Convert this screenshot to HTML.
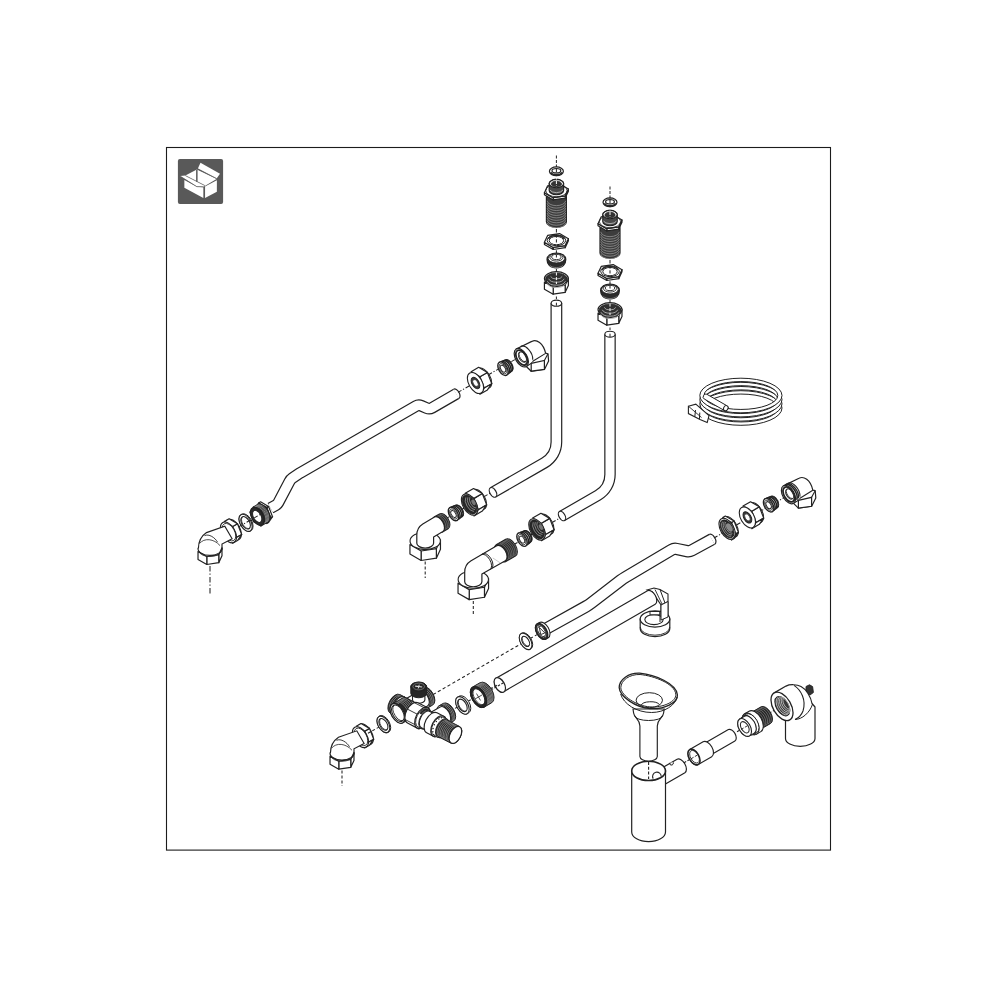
<!DOCTYPE html>
<html><head><meta charset="utf-8"><title>Parts diagram</title>
<style>html,body{margin:0;padding:0;background:#fff}svg{display:block}</style></head>
<body><svg width="1000" height="1000" viewBox="0 0 1000 1000">
<rect width="1000" height="1000" fill="#fff"/>
<rect x="166.5" y="147.5" width="664" height="702.6" fill="none" stroke="#1c1c1c" stroke-width="1.1"/>
<rect x="177.9" y="158.9" width="45.2" height="45.1" rx="2" fill="#595959"/>
<path d="M200.48,162.8 L219.98,173.72 L216.6,178.4 L197.88,168.62Z" fill="#fff" stroke="none" stroke-width="0"/>
<path d="M185.4,175.54 L196.84,169.56 L216.6,178.92 L205.16,185.68Z" fill="#fff" stroke="none" stroke-width="0"/>
<path d="M180.2,176.06 L185.4,175.44 L205.42,185.68 L203.34,186.83 L196.84,186.51Z" fill="#fff" stroke="none" stroke-width="0"/>
<path d="M184.36,179.96 L196.84,186.83 L203.34,187.14 L203.34,198.06 L184.36,187.66Z" fill="#fff" stroke="none" stroke-width="0"/>
<path d="M205.06,186.46 L216.86,180.22 L216.86,191.66 L205.06,198.06Z" fill="#fff" stroke="none" stroke-width="0"/>
<path d="M196.84,169.82 L196.84,181.78" fill="none" stroke="#595959" stroke-width="1.5"/>
<path d="M197.88,168.94 L216.6,178.5" fill="none" stroke="#595959" stroke-width="0.7"/>
<path d="M185.4,175.64 L204.9,185.58" fill="none" stroke="#595959" stroke-width="0.7"/>
<path d="M180.46,176.42 L196.84,186.67" fill="none" stroke="#595959" stroke-width="0.7"/>
<path d="M196.84,186.67 L203.6,186.83" fill="none" stroke="#595959" stroke-width="0.7"/>
<path d="M556.4,303.2 L556.4,441.98 A24 24 0 0 1 544.39,462.78 L493,492.4" fill="none" stroke="#222" stroke-width="11.8" stroke-linejoin="round"/>
<path d="M556.4,303.2 L556.4,441.98 A24 24 0 0 1 544.39,462.78 L493,492.4" fill="none" stroke="#fff" stroke-width="9.4" stroke-linejoin="round"/>
<ellipse cx="556.4" cy="303.2" rx="3.06" ry="5.3" transform="rotate(-90 556.4 303.2)" fill="#fff" stroke="#222" stroke-width="1.2"/>
<ellipse cx="493" cy="492.4" rx="3.06" ry="5.3" transform="rotate(-30 493 492.4)" fill="#fff" stroke="#222" stroke-width="1.2"/>
<path d="M556.4,302.7 L556.4,305.7" fill="none" stroke="#222" stroke-width="1"/>
<path d="M610,334.2 L610,474.44 A24 24 0 0 1 598,495.23 L562,516" fill="none" stroke="#222" stroke-width="11.5" stroke-linejoin="round"/>
<path d="M610,334.2 L610,474.44 A24 24 0 0 1 598,495.23 L562,516" fill="none" stroke="#fff" stroke-width="9.1" stroke-linejoin="round"/>
<ellipse cx="610" cy="334.2" rx="2.97" ry="5.15" transform="rotate(-90 610 334.2)" fill="#fff" stroke="#222" stroke-width="1.2"/>
<ellipse cx="562" cy="516" rx="2.97" ry="5.15" transform="rotate(-30 562 516)" fill="#fff" stroke="#222" stroke-width="1.2"/>
<path d="M610,333.7 L610,336.7" fill="none" stroke="#222" stroke-width="1"/>
<path d="M556.4,155.5 L556.4,188" fill="none" stroke="#222" stroke-width="1" stroke-dasharray="3 1.5"/>
<path d="M556.4,166.96 A4.34 7 -90 0 1 556.4,175.64 L556.4,175.64 A4.34 7 -90 0 1 556.4,166.96Z M556.4,168.5 A2.2 4.4 -90 0 1 556.4,172.9 L556.4,172.9 A2.2 4.4 -90 0 1 556.4,168.5Z" fill="#fff" fill-rule="evenodd" stroke="#222" stroke-width="1.2"/>
<path d="M561.91,172.13 A3.08 5.6 -90 0 1 550.89,172.13" fill="none" stroke="#2b2b2b" stroke-width="1.6"/>
<path d="M546.4,197 L546.4,221.7 A5.77 10 90 0 0 566.4,221.7 L566.4,197 A5.77 10 90 0 0 546.4,197 Z" fill="#3d3d3d" stroke="#222" stroke-width="1.2"/>
<path d="M565.75,200.79 A5.42 9.4 90 0 1 547.05,200.79" fill="none" stroke="#a5a5a5" stroke-width="0.65"/>
<path d="M565.75,203.24 A5.42 9.4 90 0 1 547.05,203.24" fill="none" stroke="#a5a5a5" stroke-width="0.65"/>
<path d="M565.75,205.69 A5.42 9.4 90 0 1 547.05,205.69" fill="none" stroke="#a5a5a5" stroke-width="0.65"/>
<path d="M565.75,208.14 A5.42 9.4 90 0 1 547.05,208.14" fill="none" stroke="#a5a5a5" stroke-width="0.65"/>
<path d="M565.75,210.59 A5.42 9.4 90 0 1 547.05,210.59" fill="none" stroke="#a5a5a5" stroke-width="0.65"/>
<path d="M565.75,213.04 A5.42 9.4 90 0 1 547.05,213.04" fill="none" stroke="#a5a5a5" stroke-width="0.65"/>
<path d="M565.75,215.49 A5.42 9.4 90 0 1 547.05,215.49" fill="none" stroke="#a5a5a5" stroke-width="0.65"/>
<path d="M565.75,217.94 A5.42 9.4 90 0 1 547.05,217.94" fill="none" stroke="#a5a5a5" stroke-width="0.65"/>
<path d="M565.75,220.39 A5.42 9.4 90 0 1 547.05,220.39" fill="none" stroke="#a5a5a5" stroke-width="0.65"/>
<path d="M565.75,222.84 A5.42 9.4 90 0 1 547.05,222.84" fill="none" stroke="#a5a5a5" stroke-width="0.65"/>
<path d="M565.17,195.86 L568.38,188.95 L568.38,191.15 L565.17,198.06Z" fill="#fff" stroke="#222" stroke-width="1.2" stroke-linejoin="round"/>
<path d="M553.19,197.71 L565.17,195.86 L565.17,198.06 L553.19,199.91Z" fill="#fff" stroke="#222" stroke-width="1.2" stroke-linejoin="round"/>
<path d="M544.42,192.65 L553.19,197.71 L553.19,199.91 L544.42,194.85Z" fill="#fff" stroke="#222" stroke-width="1.2" stroke-linejoin="round"/>
<path d="M568.38,188.95 L565.17,195.86 L553.19,197.71 L544.42,192.65 L547.63,185.74 L559.61,183.89Z" fill="#fff" stroke="#222" stroke-width="1.2" stroke-linejoin="round"/>
<ellipse cx="556.4" cy="190.6" rx="6.12" ry="10.6" transform="rotate(-90 556.4 190.6)" fill="none" stroke="#222" stroke-width="0.8"/>
<path d="M549.2,183.6 L549.2,190.6 A4.15 7.2 90 0 0 563.6,190.6 L563.6,183.6 A4.15 7.2 90 0 0 549.2,183.6 Z" fill="#4a4a4a" stroke="#222" stroke-width="1.2"/>
<ellipse cx="556.4" cy="183.6" rx="4.15" ry="7.2" transform="rotate(-90 556.4 183.6)" fill="#fff" stroke="#222" stroke-width="1.2"/>
<ellipse cx="556.4" cy="184" rx="3" ry="5.2" transform="rotate(-90 556.4 184)" fill="#333" stroke="#222" stroke-width="0.6"/>
<path d="M562.98,189.98 A4.04 7 90 0 1 549.82,189.98" fill="none" stroke="#c8c8c8" stroke-width="0.8"/>
<path d="M556.4,176.5 L556.4,186" fill="none" stroke="#fff" stroke-width="1" stroke-dasharray="3 1.5"/>
<path d="M556.4,229 L556.4,232.5" fill="none" stroke="#222" stroke-width="1"/>
<path d="M565.17,245.56 L568.38,238.65 L568.38,240.75 L565.17,247.66Z" fill="#fff" stroke="#222" stroke-width="1.2" stroke-linejoin="round"/>
<path d="M553.19,247.41 L565.17,245.56 L565.17,247.66 L553.19,249.51Z" fill="#fff" stroke="#222" stroke-width="1.2" stroke-linejoin="round"/>
<path d="M544.42,242.35 L553.19,247.41 L553.19,249.51 L544.42,244.45Z" fill="#fff" stroke="#222" stroke-width="1.2" stroke-linejoin="round"/>
<path d="M568.38,238.65 L565.17,245.56 L553.19,247.41 L544.42,242.35 L547.63,235.44 L559.61,233.59Z" fill="#fff" stroke="#222" stroke-width="1.2" stroke-linejoin="round"/>
<ellipse cx="556.4" cy="240.3" rx="5.37" ry="9.3" transform="rotate(-90 556.4 240.3)" fill="#fff" stroke="#222" stroke-width="1"/>
<ellipse cx="556.4" cy="240.6" rx="4.15" ry="7.2" transform="rotate(-90 556.4 240.6)" fill="#fff" stroke="#222" stroke-width="1"/>
<path d="M548.48,238.98 A4.73 8.2 -90 0 1 564.32,238.98" fill="none" stroke="#2b2b2b" stroke-width="1.7"/>
<path d="M556.4,234.5 L556.4,243" fill="none" stroke="#222" stroke-width="1" stroke-dasharray="3.2 1.6"/>
<path d="M556.4,250.3 L556.4,253" fill="none" stroke="#222" stroke-width="1"/>
<path d="M547,259.6 C547,264 549.9,268 556.4,268 C562.9,268 565.8,264 565.8,259.6 C565.8,255.5 561.4,253 556.4,253 C551.4,253 547,255.5 547,259.6Z" fill="#2b2b2b" stroke="#222" stroke-width="1.2"/>
<ellipse cx="556.4" cy="258.3" rx="4.65" ry="8.3" transform="rotate(-90 556.4 258.3)" fill="#fff" stroke="#222" stroke-width="0.9"/>
<ellipse cx="556.4" cy="257.4" rx="3.7" ry="6.6" transform="rotate(-90 556.4 257.4)" fill="#fff" stroke="#222" stroke-width="0.9"/>
<ellipse cx="556.4" cy="257" rx="2.63" ry="4.7" transform="rotate(-90 556.4 257)" fill="#fff" stroke="#222" stroke-width="0.9"/>
<path d="M562.98,265.39 A4.39 7.6 90 0 1 549.82,265.39" fill="none" stroke="#999" stroke-width="0.7"/>
<path d="M556.4,254.5 L556.4,257.5" fill="none" stroke="#222" stroke-width="1"/>
<path d="M556.4,269 L556.4,272" fill="none" stroke="#222" stroke-width="1"/>
<path d="M565.17,285.26 L568.38,278.35 L568.38,285.45 L565.17,292.36Z" fill="#fff" stroke="#222" stroke-width="1.2" stroke-linejoin="round"/>
<path d="M553.19,287.11 L565.17,285.26 L565.17,292.36 L553.19,294.21Z" fill="#fff" stroke="#222" stroke-width="1.2" stroke-linejoin="round"/>
<path d="M544.42,282.05 L553.19,287.11 L553.19,294.21 L544.42,289.15Z" fill="#fff" stroke="#222" stroke-width="1.2" stroke-linejoin="round"/>
<ellipse cx="556.4" cy="278.6" rx="6.92" ry="12" transform="rotate(-90 556.4 278.6)" fill="#fff" stroke="#222" stroke-width="1.15"/>
<path d="M567.7,278.25 L564.67,284.77 L553.37,286.52 L545.1,281.75 L548.13,275.23 L559.43,273.48Z" fill="#303030" stroke="none" stroke-width="0"/>
<ellipse cx="556.4" cy="279.2" rx="6.29" ry="10.9" transform="rotate(-90 556.4 279.2)" fill="#303030" stroke="#222" stroke-width="0.8"/>
<path d="M562.2,276.4 A3.46 6 90 0 1 550.6,276.4" fill="none" stroke="#b0b0b0" stroke-width="0.9"/>
<path d="M564.13,278.79 A4.62 8 90 0 1 548.67,278.79" fill="none" stroke="#b0b0b0" stroke-width="0.9"/>
<path d="M565.48,281.2 A5.42 9.4 90 0 1 547.32,281.2" fill="none" stroke="#b0b0b0" stroke-width="0.9"/>
<path d="M565.67,283.43 A5.54 9.6 90 0 1 547.13,283.43" fill="none" stroke="#b0b0b0" stroke-width="0.9"/>
<path d="M556.4,272.5 L556.4,284" fill="none" stroke="#fff" stroke-width="1" stroke-dasharray="3 1.6"/>
<path d="M556.4,296.5 L556.4,299" fill="none" stroke="#222" stroke-width="1"/>
<path d="M610,186.5 L610,219" fill="none" stroke="#222" stroke-width="1" stroke-dasharray="3 1.5"/>
<path d="M610,197.96 A4.34 7 -90 0 1 610,206.64 L610,206.64 A4.34 7 -90 0 1 610,197.96Z M610,199.5 A2.2 4.4 -90 0 1 610,203.9 L610,203.9 A2.2 4.4 -90 0 1 610,199.5Z" fill="#fff" fill-rule="evenodd" stroke="#222" stroke-width="1.2"/>
<path d="M615.51,203.13 A3.08 5.6 -90 0 1 604.49,203.13" fill="none" stroke="#2b2b2b" stroke-width="1.6"/>
<path d="M600,228 L600,252.7 A5.77 10 90 0 0 620,252.7 L620,228 A5.77 10 90 0 0 600,228 Z" fill="#3d3d3d" stroke="#222" stroke-width="1.2"/>
<path d="M619.35,231.79 A5.42 9.4 90 0 1 600.65,231.79" fill="none" stroke="#a5a5a5" stroke-width="0.65"/>
<path d="M619.35,234.24 A5.42 9.4 90 0 1 600.65,234.24" fill="none" stroke="#a5a5a5" stroke-width="0.65"/>
<path d="M619.35,236.69 A5.42 9.4 90 0 1 600.65,236.69" fill="none" stroke="#a5a5a5" stroke-width="0.65"/>
<path d="M619.35,239.14 A5.42 9.4 90 0 1 600.65,239.14" fill="none" stroke="#a5a5a5" stroke-width="0.65"/>
<path d="M619.35,241.59 A5.42 9.4 90 0 1 600.65,241.59" fill="none" stroke="#a5a5a5" stroke-width="0.65"/>
<path d="M619.35,244.04 A5.42 9.4 90 0 1 600.65,244.04" fill="none" stroke="#a5a5a5" stroke-width="0.65"/>
<path d="M619.35,246.49 A5.42 9.4 90 0 1 600.65,246.49" fill="none" stroke="#a5a5a5" stroke-width="0.65"/>
<path d="M619.35,248.94 A5.42 9.4 90 0 1 600.65,248.94" fill="none" stroke="#a5a5a5" stroke-width="0.65"/>
<path d="M619.35,251.39 A5.42 9.4 90 0 1 600.65,251.39" fill="none" stroke="#a5a5a5" stroke-width="0.65"/>
<path d="M619.35,253.84 A5.42 9.4 90 0 1 600.65,253.84" fill="none" stroke="#a5a5a5" stroke-width="0.65"/>
<path d="M618.77,226.86 L621.98,219.95 L621.98,222.15 L618.77,229.06Z" fill="#fff" stroke="#222" stroke-width="1.2" stroke-linejoin="round"/>
<path d="M606.79,228.71 L618.77,226.86 L618.77,229.06 L606.79,230.91Z" fill="#fff" stroke="#222" stroke-width="1.2" stroke-linejoin="round"/>
<path d="M598.02,223.65 L606.79,228.71 L606.79,230.91 L598.02,225.85Z" fill="#fff" stroke="#222" stroke-width="1.2" stroke-linejoin="round"/>
<path d="M621.98,219.95 L618.77,226.86 L606.79,228.71 L598.02,223.65 L601.23,216.74 L613.21,214.89Z" fill="#fff" stroke="#222" stroke-width="1.2" stroke-linejoin="round"/>
<ellipse cx="610" cy="221.6" rx="6.12" ry="10.6" transform="rotate(-90 610 221.6)" fill="none" stroke="#222" stroke-width="0.8"/>
<path d="M602.8,214.6 L602.8,221.6 A4.15 7.2 90 0 0 617.2,221.6 L617.2,214.6 A4.15 7.2 90 0 0 602.8,214.6 Z" fill="#4a4a4a" stroke="#222" stroke-width="1.2"/>
<ellipse cx="610" cy="214.6" rx="4.15" ry="7.2" transform="rotate(-90 610 214.6)" fill="#fff" stroke="#222" stroke-width="1.2"/>
<ellipse cx="610" cy="215" rx="3" ry="5.2" transform="rotate(-90 610 215)" fill="#333" stroke="#222" stroke-width="0.6"/>
<path d="M616.58,220.98 A4.04 7 90 0 1 603.42,220.98" fill="none" stroke="#c8c8c8" stroke-width="0.8"/>
<path d="M610,207.5 L610,217" fill="none" stroke="#fff" stroke-width="1" stroke-dasharray="3 1.5"/>
<path d="M610,260 L610,263.5" fill="none" stroke="#222" stroke-width="1"/>
<path d="M618.77,276.56 L621.98,269.65 L621.98,271.75 L618.77,278.66Z" fill="#fff" stroke="#222" stroke-width="1.2" stroke-linejoin="round"/>
<path d="M606.79,278.41 L618.77,276.56 L618.77,278.66 L606.79,280.51Z" fill="#fff" stroke="#222" stroke-width="1.2" stroke-linejoin="round"/>
<path d="M598.02,273.35 L606.79,278.41 L606.79,280.51 L598.02,275.45Z" fill="#fff" stroke="#222" stroke-width="1.2" stroke-linejoin="round"/>
<path d="M621.98,269.65 L618.77,276.56 L606.79,278.41 L598.02,273.35 L601.23,266.44 L613.21,264.59Z" fill="#fff" stroke="#222" stroke-width="1.2" stroke-linejoin="round"/>
<ellipse cx="610" cy="271.3" rx="5.37" ry="9.3" transform="rotate(-90 610 271.3)" fill="#fff" stroke="#222" stroke-width="1"/>
<ellipse cx="610" cy="271.6" rx="4.15" ry="7.2" transform="rotate(-90 610 271.6)" fill="#fff" stroke="#222" stroke-width="1"/>
<path d="M602.08,269.98 A4.73 8.2 -90 0 1 617.92,269.98" fill="none" stroke="#2b2b2b" stroke-width="1.7"/>
<path d="M610,265.5 L610,274" fill="none" stroke="#222" stroke-width="1" stroke-dasharray="3.2 1.6"/>
<path d="M610,281.3 L610,284" fill="none" stroke="#222" stroke-width="1"/>
<path d="M600.6,290.6 C600.6,295 603.5,299 610,299 C616.5,299 619.4,295 619.4,290.6 C619.4,286.5 615,284 610,284 C605,284 600.6,286.5 600.6,290.6Z" fill="#2b2b2b" stroke="#222" stroke-width="1.2"/>
<ellipse cx="610" cy="289.3" rx="4.65" ry="8.3" transform="rotate(-90 610 289.3)" fill="#fff" stroke="#222" stroke-width="0.9"/>
<ellipse cx="610" cy="288.4" rx="3.7" ry="6.6" transform="rotate(-90 610 288.4)" fill="#fff" stroke="#222" stroke-width="0.9"/>
<ellipse cx="610" cy="288" rx="2.63" ry="4.7" transform="rotate(-90 610 288)" fill="#fff" stroke="#222" stroke-width="0.9"/>
<path d="M616.58,296.39 A4.39 7.6 90 0 1 603.42,296.39" fill="none" stroke="#999" stroke-width="0.7"/>
<path d="M610,285.5 L610,288.5" fill="none" stroke="#222" stroke-width="1"/>
<path d="M610,300 L610,303" fill="none" stroke="#222" stroke-width="1"/>
<path d="M618.77,316.26 L621.98,309.35 L621.98,316.45 L618.77,323.36Z" fill="#fff" stroke="#222" stroke-width="1.2" stroke-linejoin="round"/>
<path d="M606.79,318.11 L618.77,316.26 L618.77,323.36 L606.79,325.21Z" fill="#fff" stroke="#222" stroke-width="1.2" stroke-linejoin="round"/>
<path d="M598.02,313.05 L606.79,318.11 L606.79,325.21 L598.02,320.15Z" fill="#fff" stroke="#222" stroke-width="1.2" stroke-linejoin="round"/>
<ellipse cx="610" cy="309.6" rx="6.92" ry="12" transform="rotate(-90 610 309.6)" fill="#fff" stroke="#222" stroke-width="1.15"/>
<path d="M621.3,309.25 L618.27,315.77 L606.97,317.52 L598.7,312.75 L601.73,306.23 L613.03,304.48Z" fill="#303030" stroke="none" stroke-width="0"/>
<ellipse cx="610" cy="310.2" rx="6.29" ry="10.9" transform="rotate(-90 610 310.2)" fill="#303030" stroke="#222" stroke-width="0.8"/>
<path d="M615.8,307.4 A3.46 6 90 0 1 604.2,307.4" fill="none" stroke="#b0b0b0" stroke-width="0.9"/>
<path d="M617.73,309.79 A4.62 8 90 0 1 602.27,309.79" fill="none" stroke="#b0b0b0" stroke-width="0.9"/>
<path d="M619.08,312.2 A5.42 9.4 90 0 1 600.92,312.2" fill="none" stroke="#b0b0b0" stroke-width="0.9"/>
<path d="M619.27,314.43 A5.54 9.6 90 0 1 600.73,314.43" fill="none" stroke="#b0b0b0" stroke-width="0.9"/>
<path d="M610,303.5 L610,315" fill="none" stroke="#fff" stroke-width="1" stroke-dasharray="3 1.6"/>
<path d="M610,327.5 L610,330" fill="none" stroke="#222" stroke-width="1"/>
<path d="M270.5,508.2 L275.98,505.07 A6 6 0 0 0 278.31,502.65 L289.46,481.48 A9 9 0 0 1 292.34,478.24 L299.72,473.19 A9 9 0 0 1 300.3,472.83 L415.9,406.1 A6 6 0 0 1 421.26,405.78 L426.74,408.12 A6 6 0 0 0 432.1,407.8 L456.3,393.8" fill="none" stroke="#222" stroke-width="11.8" stroke-linejoin="round"/>
<path d="M270.5,508.2 L275.98,505.07 A6 6 0 0 0 278.31,502.65 L289.46,481.48 A9 9 0 0 1 292.34,478.24 L299.72,473.19 A9 9 0 0 1 300.3,472.83 L415.9,406.1 A6 6 0 0 1 421.26,405.78 L426.74,408.12 A6 6 0 0 0 432.1,407.8 L456.3,393.8" fill="none" stroke="#fff" stroke-width="9.4" stroke-linejoin="round"/>
<path d="M458.95,398.39 A3.06 5.3 -30 0 0 453.65,389.21" fill="#fff" stroke="#222" stroke-width="1.2"/>
<path d="M270.73,517.81 L266.73,507.52 L268.55,506.47 L272.55,516.76Z" fill="#fff" stroke="#222" stroke-width="1.2" stroke-linejoin="round"/>
<path d="M266.74,523.5 L270.73,517.81 L272.55,516.76 L268.56,522.45Z" fill="#fff" stroke="#222" stroke-width="1.2" stroke-linejoin="round"/>
<path d="M266.73,507.52 L258.75,502.9 L260.57,501.85 L268.55,506.47Z" fill="#fff" stroke="#222" stroke-width="1.2" stroke-linejoin="round"/>
<path d="M266.73,507.52 L270.73,517.81 L266.74,523.5 L258.75,518.88 L254.75,508.59 L258.75,502.9Z" fill="#fff" stroke="#222" stroke-width="1.2" stroke-linejoin="round"/>
<path d="M264.55,520.65 L260.87,511.17 L266.42,507.97 L270.09,517.45Z" fill="#2b2b2b" stroke="#222" stroke-width="1.2" stroke-linejoin="round"/>
<path d="M260.88,525.88 L264.55,520.65 L270.09,517.45 L266.42,522.68Z" fill="#2b2b2b" stroke="#222" stroke-width="1.2" stroke-linejoin="round"/>
<path d="M260.87,511.17 L253.52,506.92 L259.06,503.72 L266.42,507.97Z" fill="#2b2b2b" stroke="#222" stroke-width="1.2" stroke-linejoin="round"/>
<path d="M260.87,511.17 L264.55,520.65 L260.88,525.88 L253.53,521.63 L249.85,512.15 L253.52,506.92Z" fill="#2b2b2b" stroke="#222" stroke-width="1.2" stroke-linejoin="round"/>
<path d="M254.62,506.63 A5.65 9.8 -30 0 1 264.37,523.51" fill="none" stroke="#a8a8a8" stroke-width="0.65"/>
<path d="M255.6,506.07 A5.65 9.8 -30 0 1 265.35,522.95" fill="none" stroke="#a8a8a8" stroke-width="0.65"/>
<path d="M256.57,505.51 A5.65 9.8 -30 0 1 266.32,522.39" fill="none" stroke="#a8a8a8" stroke-width="0.65"/>
<path d="M257.55,504.95 A5.65 9.8 -30 0 1 267.29,521.83" fill="none" stroke="#a8a8a8" stroke-width="0.65"/>
<ellipse cx="257.2" cy="516.4" rx="5.6" ry="9.7" transform="rotate(-30 257.2 516.4)" fill="#2b2b2b" stroke="#222" stroke-width="1"/>
<ellipse cx="257.2" cy="516.4" rx="3.81" ry="6.6" transform="rotate(-30 257.2 516.4)" fill="#fff" stroke="#222" stroke-width="1"/>
<path d="M250.3,530.94 L251.17,530.44 A5.42 9.4 -30 0 0 241.77,514.16 L240.9,514.66 A5.42 9.4 -30 0 0 250.3,530.94 Z" fill="#fff" stroke="#222" stroke-width="1"/>
<path d="M250.3,520.09 A5.42 9.4 -30 0 1 240.9,525.51 L240.9,525.51 A5.42 9.4 -30 0 1 250.3,520.09Z M249,520.84 A3.92 6.8 -30 0 1 242.2,524.76 L242.2,524.76 A3.92 6.8 -30 0 1 249,520.84Z" fill="#fff" fill-rule="evenodd" stroke="#222" stroke-width="1.1"/>
<path d="M249.69,528.29 A3.92 6.8 -30 0 1 242.89,516.51" fill="none" stroke="#222" stroke-width="0.8"/>
<path d="M239,526.6 L262,513.4" fill="none" stroke="#222" stroke-width="1.05" stroke-dasharray="4 1.8 1.2 1.8"/>
<ellipse cx="233.3" cy="529.65" rx="6.58" ry="11.4" transform="rotate(-30 233.3 529.65)" fill="#fff" stroke="#222" stroke-width="1.1"/>
<path d="M236.86,537.31 L232.65,526.47 L237.5,523.67 L241.71,534.51Z" fill="#fff" stroke="#222" stroke-width="1.2" stroke-linejoin="round"/>
<path d="M232.65,543.29 L236.86,537.31 L241.71,534.51 L237.5,540.49Z" fill="#fff" stroke="#222" stroke-width="1.2" stroke-linejoin="round"/>
<path d="M232.65,526.47 L224.24,521.61 L229.09,518.81 L237.5,523.67Z" fill="#fff" stroke="#222" stroke-width="1.2" stroke-linejoin="round"/>
<ellipse cx="228.45" cy="532.45" rx="6.58" ry="11.4" transform="rotate(-30 228.45 532.45)" fill="#fff" stroke="#222" stroke-width="1.1"/>
<ellipse cx="228.97" cy="532.15" rx="5.54" ry="9.6" transform="rotate(-30 228.97 532.15)" fill="none" stroke="#222" stroke-width="0.8"/>
<path d="M198.4,548.6 C198.4,541.6 202,535.6 206.5,532.6 L224.8,526.13 L232.1,538.77 L222,544.1 L222,549.6 L210,555.6Z" fill="#fff" stroke="none" stroke-width="0"/>
<path d="M198.4,548.6 C198.4,541.6 202,535.6 206.5,532.6 L224.8,526.13 L232.1,538.77 L222,544.1 L222,549.6" fill="none" stroke="#222" stroke-width="1.15"/>
<path d="M204.5,535.6 C209,533.6 215,537.6 217.5,542.1" fill="none" stroke="#222" stroke-width="0.9"/>
<path d="M199.5,543.6 C204,537.6 214,538.6 220,545.6" fill="none" stroke="#222" stroke-width="0.8"/>
<path d="M218.77,554.66 L221.98,547.75 L221.98,555.75 L218.77,562.66Z" fill="#fff" stroke="#222" stroke-width="1.2" stroke-linejoin="round"/>
<path d="M206.79,556.51 L218.77,554.66 L218.77,562.66 L206.79,564.51Z" fill="#fff" stroke="#222" stroke-width="1.2" stroke-linejoin="round"/>
<path d="M198.02,551.45 L206.79,556.51 L206.79,564.51 L198.02,559.45Z" fill="#fff" stroke="#222" stroke-width="1.2" stroke-linejoin="round"/>
<path d="M221.95,547.8 A6.92 12 90 1 1 198.05,547.8" fill="none" stroke="#222" stroke-width="1.1"/>
<path d="M221.42,551.06 A6.69 11.6 90 0 1 198.58,551.06" fill="none" stroke="#222" stroke-width="0.8"/>
<path d="M210,566 L210,595" fill="none" stroke="#222" stroke-width="1.05" stroke-dasharray="5.5 2 1.2 2.3"/>
<path d="M458,392.4 L520,356.6" fill="none" stroke="#222" stroke-width="1.05" stroke-dasharray="4 1.8 1.2 1.8"/>
<ellipse cx="483.81" cy="378.2" rx="6.44" ry="11.16" transform="rotate(-30 483.81 378.2)" fill="#fff" stroke="#222" stroke-width="1"/>
<path d="M484.27,388.06 L479.88,376.77 L487.41,372.42 L491.8,383.71Z" fill="#fff" stroke="#222" stroke-width="1.2" stroke-linejoin="round"/>
<path d="M479.89,394.3 L484.27,388.06 L491.8,383.71 L487.42,389.95Z" fill="#fff" stroke="#222" stroke-width="1.2" stroke-linejoin="round"/>
<path d="M479.88,376.77 L471.11,371.7 L478.65,367.35 L487.41,372.42Z" fill="#fff" stroke="#222" stroke-width="1.2" stroke-linejoin="round"/>
<ellipse cx="475.5" cy="383" rx="6.65" ry="11.53" transform="rotate(-30 475.5 383)" fill="#fff" stroke="#222" stroke-width="1.1"/>
<ellipse cx="475.5" cy="383" rx="3.58" ry="6.2" transform="rotate(-30 475.5 383)" fill="#3a3a3a" stroke="#222" stroke-width="1"/>
<ellipse cx="475.5" cy="383" rx="2.22" ry="3.84" transform="rotate(-30 475.5 383)" fill="#fff" stroke="#222" stroke-width="0.6"/>
<path d="M506.7,375.11 L511.83,370.99 A3.69 6.4 -30 0 0 505.43,359.91 L499.3,362.29Z" fill="#fff" stroke="#222" stroke-width="1.1"/>
<path d="M501.1,361.59 A4.1 7.11 -30 0 1 508.21,373.9" fill="none" stroke="#222" stroke-width="1.5"/>
<path d="M502.91,360.89 A3.93 6.81 -30 0 1 509.72,372.69" fill="none" stroke="#222" stroke-width="1.5"/>
<path d="M504.71,360.19 A3.76 6.52 -30 0 1 511.23,371.48" fill="none" stroke="#222" stroke-width="1.5"/>
<ellipse cx="503" cy="368.7" rx="4.27" ry="7.4" transform="rotate(-30 503 368.7)" fill="#fff" stroke="#222" stroke-width="1.35"/>
<ellipse cx="503" cy="368.7" rx="3.23" ry="5.6" transform="rotate(-30 503 368.7)" fill="none" stroke="#222" stroke-width="0.8"/>
<ellipse cx="503" cy="368.7" rx="2.19" ry="3.8" transform="rotate(-30 503 368.7)" fill="#fff" stroke="#222" stroke-width="1"/>
<path d="M516.25,348.95 L531.8,341.4 C536.3,338.9 543.3,342.7 545.6,353.2 L548,353.8 L548.6,361 L544.6,369.2 L531.2,371.2 L526.35,366.45Z" fill="#fff" stroke="#222" stroke-width="1.2" stroke-linejoin="round"/>
<path d="M531.2,363.4 L544.4,360.4 L544.4,369.4 L531.2,371.2Z" fill="#fff" stroke="#222" stroke-width="1.2"/>
<path d="M526.35,366.45 L531.2,363.4" fill="none" stroke="#222" stroke-width="1.1"/>
<path d="M544.4,360.4 L548,353.8" fill="none" stroke="#222" stroke-width="1.1"/>
<path d="M532.8,361.3 L545.6,353.4" fill="none" stroke="#222" stroke-width="1.1"/>
<path d="M531.2,363.4 L532.8,361.3" fill="none" stroke="#222" stroke-width="1"/>
<path d="M520.58,346.45 A5.83 10.1 -30 0 1 532.76,359.75" fill="none" stroke="#222" stroke-width="1.1"/>
<ellipse cx="521.3" cy="357.7" rx="5.83" ry="10.1" transform="rotate(-30 521.3 357.7)" fill="#fff" stroke="#222" stroke-width="1.2"/>
<ellipse cx="521.56" cy="357.55" rx="4.73" ry="8.2" transform="rotate(-30 521.56 357.55)" fill="#fff" stroke="#222" stroke-width="1.8"/>
<ellipse cx="522.34" cy="357.1" rx="3.23" ry="5.6" transform="rotate(-30 522.34 357.1)" fill="#fff" stroke="#222" stroke-width="1"/>
<path d="M525.48,361.66 A3.23 5.6 -30 0 1 519.96,352.1" fill="none" stroke="#222" stroke-width="0.9"/>
<path d="M446,518.6 L490,493.2" fill="none" stroke="#222" stroke-width="1.05" stroke-dasharray="4 1.8 1.2 1.8"/>
<path d="M443.01,531.75 L448.12,528.8 A4.96 8.6 -30 0 0 439.52,513.9 L434.41,516.85 A4.96 8.6 -30 0 0 443.01,531.75 Z" fill="#2b2b2b" stroke="#222" stroke-width="1.1"/>
<path d="M436.65,516.3 A4.62 8 -30 0 1 444.61,530.08" fill="none" stroke="#999" stroke-width="0.5"/>
<path d="M438.27,515.37 A4.62 8 -30 0 1 446.22,529.15" fill="none" stroke="#999" stroke-width="0.5"/>
<path d="M439.88,514.44 A4.62 8 -30 0 1 447.84,528.22" fill="none" stroke="#999" stroke-width="0.5"/>
<path d="M436.37,548.65 L440.46,539.84 L440.46,549.34 L436.37,558.15Z" fill="#fff" stroke="#222" stroke-width="1.2" stroke-linejoin="round"/>
<path d="M421.11,551.01 L436.37,548.65 L436.37,558.15 L421.11,560.51Z" fill="#fff" stroke="#222" stroke-width="1.2" stroke-linejoin="round"/>
<path d="M409.94,544.56 L421.11,551.01 L421.11,560.51 L409.94,554.06Z" fill="#fff" stroke="#222" stroke-width="1.2" stroke-linejoin="round"/>
<ellipse cx="425.2" cy="540.9" rx="8.75" ry="15.17" transform="rotate(-90 425.2 540.9)" fill="#fff" stroke="#222" stroke-width="1.1"/>
<path d="M416.8,543.2 L416.8,535.1 Q416.8,527.6 422.8,523.9 L434.51,517.03 A4.85 8.4 -30 0 1 442.91,531.57 L433.6,537 L433.6,543.2 A8.4 4.85 0 0 1 416.8,543.2Z" fill="#fff" stroke="#222" stroke-width="1.2" stroke-linejoin="round"/>
<path d="M425.2,561.5 L425.2,578" fill="none" stroke="#222" stroke-width="1.05" stroke-dasharray="3 2"/>
<path d="M457.2,520.41 L462.33,516.29 A3.69 6.4 -30 0 0 455.93,505.21 L449.8,507.59Z" fill="#fff" stroke="#222" stroke-width="1.1"/>
<path d="M451.6,506.89 A4.1 7.11 -30 0 1 458.71,519.2" fill="none" stroke="#222" stroke-width="1.5"/>
<path d="M453.41,506.19 A3.93 6.81 -30 0 1 460.22,517.99" fill="none" stroke="#222" stroke-width="1.5"/>
<path d="M455.21,505.49 A3.76 6.52 -30 0 1 461.73,516.78" fill="none" stroke="#222" stroke-width="1.5"/>
<ellipse cx="453.5" cy="514" rx="4.27" ry="7.4" transform="rotate(-30 453.5 514)" fill="#fff" stroke="#222" stroke-width="1.35"/>
<ellipse cx="453.5" cy="514" rx="3.23" ry="5.6" transform="rotate(-30 453.5 514)" fill="none" stroke="#222" stroke-width="0.8"/>
<ellipse cx="453.5" cy="514" rx="2.19" ry="3.8" transform="rotate(-30 453.5 514)" fill="#fff" stroke="#222" stroke-width="1"/>
<ellipse cx="478.69" cy="499.35" rx="6.44" ry="11.16" transform="rotate(-30 478.69 499.35)" fill="#fff" stroke="#222" stroke-width="1"/>
<path d="M478.37,509.66 L473.98,498.37 L482.29,493.57 L486.68,504.86Z" fill="#fff" stroke="#222" stroke-width="1.2" stroke-linejoin="round"/>
<path d="M473.99,515.9 L478.37,509.66 L486.68,504.86 L482.3,511.1Z" fill="#fff" stroke="#222" stroke-width="1.2" stroke-linejoin="round"/>
<path d="M473.98,498.37 L465.21,493.3 L473.53,488.5 L482.29,493.57Z" fill="#fff" stroke="#222" stroke-width="1.2" stroke-linejoin="round"/>
<ellipse cx="469.6" cy="504.6" rx="6.73" ry="11.66" transform="rotate(-30 469.6 504.6)" fill="#fff" stroke="#222" stroke-width="1.1"/>
<ellipse cx="469.6" cy="504.6" rx="6.01" ry="10.42" transform="rotate(-30 469.6 504.6)" fill="#262626" stroke="#222" stroke-width="0.8"/>
<path d="M473.9,511.45 A4.96 8.6 -30 0 1 465.82,497.45" fill="none" stroke="#9a9a9a" stroke-width="0.8"/>
<path d="M474.99,509.73 A4.39 7.6 -30 0 1 467.85,497.37" fill="none" stroke="#9a9a9a" stroke-width="0.8"/>
<path d="M476.08,508.02 A3.81 6.6 -30 0 1 469.87,497.28" fill="none" stroke="#9a9a9a" stroke-width="0.8"/>
<ellipse cx="473.5" cy="502.35" rx="1.73" ry="3" transform="rotate(-30 473.5 502.35)" fill="#777" stroke="none" stroke-width="0"/>
<path d="M514,544.5 L560,518" fill="none" stroke="#222" stroke-width="1.05" stroke-dasharray="4 1.8 1.2 1.8"/>
<path d="M505.86,561.6 L515.39,556.1 A5.6 9.7 -30 0 0 505.69,539.3 L496.16,544.8 A5.6 9.7 -30 0 0 505.86,561.6 Z" fill="#2b2b2b" stroke="#222" stroke-width="1.1"/>
<path d="M498.43,544.24 A5.25 9.1 -30 0 1 507.48,559.92" fill="none" stroke="#999" stroke-width="0.5"/>
<path d="M499.97,543.35 A5.25 9.1 -30 0 1 509.02,559.03" fill="none" stroke="#999" stroke-width="0.5"/>
<path d="M501.52,542.46 A5.25 9.1 -30 0 1 510.57,558.13" fill="none" stroke="#999" stroke-width="0.5"/>
<path d="M503.06,541.57 A5.25 9.1 -30 0 1 512.11,557.24" fill="none" stroke="#999" stroke-width="0.5"/>
<path d="M504.61,540.68 A5.25 9.1 -30 0 1 513.66,556.35" fill="none" stroke="#999" stroke-width="0.5"/>
<path d="M506.15,539.78 A5.25 9.1 -30 0 1 515.2,555.46" fill="none" stroke="#999" stroke-width="0.5"/>
<path d="M484.47,587.25 L488.56,578.44 L488.56,588.44 L484.47,597.25Z" fill="#fff" stroke="#222" stroke-width="1.2" stroke-linejoin="round"/>
<path d="M469.21,589.61 L484.47,587.25 L484.47,597.25 L469.21,599.61Z" fill="#fff" stroke="#222" stroke-width="1.2" stroke-linejoin="round"/>
<path d="M458.04,583.16 L469.21,589.61 L469.21,599.61 L458.04,593.16Z" fill="#fff" stroke="#222" stroke-width="1.2" stroke-linejoin="round"/>
<ellipse cx="473.3" cy="579.5" rx="8.75" ry="15.17" transform="rotate(-90 473.3 579.5)" fill="#fff" stroke="#222" stroke-width="1.1"/>
<path d="M464.7,581.8 L464.7,572.2 Q464.7,564.7 470.7,561 L496.71,545.75 A4.96 8.6 -30 0 1 505.31,560.65 L481.9,574.1 L481.9,581.8 A8.6 4.96 0 0 1 464.7,581.8Z" fill="#fff" stroke="#222" stroke-width="1.2" stroke-linejoin="round"/>
<path d="M481.02,554.58 A5.08 8.8 -30 0 1 489.82,569.82" fill="none" stroke="#222" stroke-width="1"/>
<path d="M482.41,553.78 A5.08 8.8 -30 0 1 491.21,569.02" fill="none" stroke="#222" stroke-width="1"/>
<path d="M492.79,557.95 L500.25,562.88" fill="none" stroke="#999" stroke-width="0.5"/>
<path d="M473.3,601 L473.3,616" fill="none" stroke="#222" stroke-width="1.05" stroke-dasharray="3 2"/>
<path d="M525.7,546.01 L530.83,541.89 A3.69 6.4 -30 0 0 524.43,530.81 L518.3,533.19Z" fill="#fff" stroke="#222" stroke-width="1.1"/>
<path d="M520.1,532.49 A4.1 7.11 -30 0 1 527.21,544.8" fill="none" stroke="#222" stroke-width="1.5"/>
<path d="M521.91,531.79 A3.93 6.81 -30 0 1 528.72,543.59" fill="none" stroke="#222" stroke-width="1.5"/>
<path d="M523.71,531.09 A3.76 6.52 -30 0 1 530.23,542.38" fill="none" stroke="#222" stroke-width="1.5"/>
<ellipse cx="522" cy="539.6" rx="4.27" ry="7.4" transform="rotate(-30 522 539.6)" fill="#fff" stroke="#222" stroke-width="1.35"/>
<ellipse cx="522" cy="539.6" rx="3.23" ry="5.6" transform="rotate(-30 522 539.6)" fill="none" stroke="#222" stroke-width="0.8"/>
<ellipse cx="522" cy="539.6" rx="2.19" ry="3.8" transform="rotate(-30 522 539.6)" fill="#fff" stroke="#222" stroke-width="1"/>
<ellipse cx="546.09" cy="524.15" rx="6.44" ry="11.16" transform="rotate(-30 546.09 524.15)" fill="#fff" stroke="#222" stroke-width="1"/>
<path d="M545.77,534.46 L541.38,523.17 L549.69,518.37 L554.08,529.66Z" fill="#fff" stroke="#222" stroke-width="1.2" stroke-linejoin="round"/>
<path d="M541.39,540.7 L545.77,534.46 L554.08,529.66 L549.7,535.9Z" fill="#fff" stroke="#222" stroke-width="1.2" stroke-linejoin="round"/>
<path d="M541.38,523.17 L532.61,518.1 L540.93,513.3 L549.69,518.37Z" fill="#fff" stroke="#222" stroke-width="1.2" stroke-linejoin="round"/>
<ellipse cx="537" cy="529.4" rx="6.73" ry="11.66" transform="rotate(-30 537 529.4)" fill="#fff" stroke="#222" stroke-width="1.1"/>
<ellipse cx="537" cy="529.4" rx="6.01" ry="10.42" transform="rotate(-30 537 529.4)" fill="#262626" stroke="#222" stroke-width="0.8"/>
<path d="M541.3,536.25 A4.96 8.6 -30 0 1 533.22,522.25" fill="none" stroke="#9a9a9a" stroke-width="0.8"/>
<path d="M542.39,534.53 A4.39 7.6 -30 0 1 535.25,522.17" fill="none" stroke="#9a9a9a" stroke-width="0.8"/>
<path d="M543.48,532.82 A3.81 6.6 -30 0 1 537.27,522.08" fill="none" stroke="#9a9a9a" stroke-width="0.8"/>
<ellipse cx="540.9" cy="527.15" rx="1.73" ry="3" transform="rotate(-30 540.9 527.15)" fill="#777" stroke="none" stroke-width="0"/>
<path d="M647,590 L654,588 L660,589.5 L668,594 L668,617 L661,620 L661,605 L653,593Z" fill="#fff" stroke="#222" stroke-width="1.1"/>
<path d="M660,589.5 L665,603" fill="none" stroke="#222" stroke-width="1"/>
<path d="M665,603 L668,601.5" fill="none" stroke="#222" stroke-width="1"/>
<path d="M661,605 L665,603" fill="none" stroke="#222" stroke-width="1"/>
<path d="M655,589.5 L662,604" fill="none" stroke="#222" stroke-width="0.9"/>
<path d="M652,591 L656,600" fill="none" stroke="#222" stroke-width="0.9"/>
<path d="M640.2,619 L640.2,628.5 A14.8 8.2 0 0 0 669.8,628.5 L669.8,619Z" fill="#fff" stroke="#222" stroke-width="1.2"/>
<path d="M640.2,627 A14.8 8.2 0 0 0 669.8,627" fill="none" stroke="#222" stroke-width="0.9"/>
<ellipse cx="655" cy="619" rx="14.8" ry="8.2" fill="#fff" stroke="#222" stroke-width="1.2"/>
<ellipse cx="654" cy="619.6" rx="9.2" ry="5" fill="#fff" stroke="#222" stroke-width="1.1"/>
<path d="M650,611.5 L660,611.5 L660,614.8 L650,614.8Z" fill="#fff" stroke="#222" stroke-width="1"/>
<path d="M660,611.5 L660,622" fill="none" stroke="#222" stroke-width="1"/>
<path d="M661,605 L661,620 L668,617 L668,601.5 L665,603Z" fill="#fff" stroke="#222" stroke-width="1"/>
<path d="M503.65,691.67 L655.2,604.17 A4.44 7.7 -30 0 0 647.5,590.83 L495.95,678.33 A4.44 7.7 -30 0 0 503.65,691.67 Z" fill="#fff" stroke="#222" stroke-width="1.2"/>
<ellipse cx="499.8" cy="685" rx="4.67" ry="8.1" transform="rotate(-30 499.8 685)" fill="#fff" stroke="#222" stroke-width="1.2"/>
<path d="M503.5,682.8 L492,689.4" fill="none" stroke="#222" stroke-width="1.05" stroke-dasharray="2.5 1.5"/>
<path d="M546.3,628.6 L585.91,606.51 A45 45 0 0 0 591.42,602.88 L620.84,580.26 A45 45 0 0 1 625.34,577.21 L671.67,549.78 A7 7 0 0 1 676.65,548.95 L686.98,551.08 A7 7 0 0 0 691.76,550.37 L712,539.3" fill="none" stroke="#222" stroke-width="12.4" stroke-linejoin="round"/>
<path d="M546.3,628.6 L585.91,606.51 A45 45 0 0 0 591.42,602.88 L620.84,580.26 A45 45 0 0 1 625.34,577.21 L671.67,549.78 A7 7 0 0 1 676.65,548.95 L686.98,551.08 A7 7 0 0 0 691.76,550.37 L712,539.3" fill="none" stroke="#fff" stroke-width="10" stroke-linejoin="round"/>
<path d="M714.8,544.15 A3.23 5.6 -30 0 0 709.2,534.45" fill="#fff" stroke="#222" stroke-width="1.2"/>
<path d="M546,639.02 L548.25,637.72 A5.08 8.8 -30 0 0 539.45,622.48 L537.2,623.78 A5.08 8.8 -30 0 0 546,639.02 Z" fill="#fff" stroke="#222" stroke-width="1.1"/>
<ellipse cx="541.6" cy="631.4" rx="5.08" ry="8.8" transform="rotate(-30 541.6 631.4)" fill="#333" stroke="#222" stroke-width="1.3"/>
<ellipse cx="541.6" cy="631.4" rx="4.04" ry="7" transform="rotate(-30 541.6 631.4)" fill="#fff" stroke="#222" stroke-width="0.8"/>
<ellipse cx="541.6" cy="631.4" rx="3.23" ry="5.6" transform="rotate(-30 541.6 631.4)" fill="#fff" stroke="#222" stroke-width="0.9"/>
<path d="M539.3,627.42 L544.84,632.94 L540.76,634.54Z" fill="none" stroke="#222" stroke-width="0.9"/>
<path d="M433,694.6 L537,634.6" fill="none" stroke="#222" stroke-width="1.05" stroke-dasharray="3.2 2.4"/>
<path d="M530.1,649.19 L530.97,648.69 A5.19 9 -30 0 0 521.97,633.11 L521.1,633.61 A5.19 9 -30 0 0 530.1,649.19 Z" fill="#fff" stroke="#222" stroke-width="1"/>
<path d="M530.1,638.8 A5.19 9 -30 0 1 521.1,644 L521.1,644 A5.19 9 -30 0 1 530.1,638.8Z M528.4,639.78 A3.23 5.6 -30 0 1 522.8,643.02 L522.8,643.02 A3.23 5.6 -30 0 1 528.4,639.78Z" fill="#fff" fill-rule="evenodd" stroke="#222" stroke-width="1.1"/>
<path d="M529.09,645.85 A3.23 5.6 -30 0 1 523.49,636.15" fill="none" stroke="#222" stroke-width="0.8"/>
<path d="M714,538 L786,496.5" fill="none" stroke="#222" stroke-width="1.05" stroke-dasharray="4 1.8 1.2 1.8"/>
<ellipse cx="730.22" cy="527" rx="6.58" ry="11.41" transform="rotate(-30 730.22 527)" fill="#fff" stroke="#222" stroke-width="1"/>
<path d="M735.87,533.86 L731.48,522.57 L734.08,521.07 L738.46,532.36Z" fill="#fff" stroke="#222" stroke-width="1.2" stroke-linejoin="round"/>
<path d="M731.49,540.1 L735.87,533.86 L738.46,532.36 L734.08,538.6Z" fill="#fff" stroke="#222" stroke-width="1.2" stroke-linejoin="round"/>
<path d="M731.48,522.57 L722.71,517.5 L725.31,516 L734.08,521.07Z" fill="#fff" stroke="#222" stroke-width="1.2" stroke-linejoin="round"/>
<ellipse cx="727.1" cy="528.8" rx="6.65" ry="11.53" transform="rotate(-30 727.1 528.8)" fill="#fff" stroke="#222" stroke-width="1.1"/>
<ellipse cx="727.1" cy="528.8" rx="5.65" ry="9.8" transform="rotate(-30 727.1 528.8)" fill="#262626" stroke="#222" stroke-width="0.9"/>
<path d="M731.28,536.17 A4.96 8.6 -30 0 1 722.81,521.5" fill="none" stroke="#a5a5a5" stroke-width="0.8"/>
<path d="M731.83,534.71 A4.39 7.6 -30 0 1 724.34,521.75" fill="none" stroke="#a5a5a5" stroke-width="0.8"/>
<path d="M732.38,533.26 A3.81 6.6 -30 0 1 725.88,522" fill="none" stroke="#a5a5a5" stroke-width="0.8"/>
<ellipse cx="729.35" cy="527.5" rx="2.65" ry="4.6" transform="rotate(-30 729.35 527.5)" fill="#8a8a8a" stroke="none" stroke-width="0"/>
<ellipse cx="755.71" cy="512.6" rx="6.44" ry="11.16" transform="rotate(-30 755.71 512.6)" fill="#fff" stroke="#222" stroke-width="1"/>
<path d="M756.17,522.46 L751.78,511.17 L759.31,506.82 L763.7,518.11Z" fill="#fff" stroke="#222" stroke-width="1.2" stroke-linejoin="round"/>
<path d="M751.79,528.7 L756.17,522.46 L763.7,518.11 L759.32,524.35Z" fill="#fff" stroke="#222" stroke-width="1.2" stroke-linejoin="round"/>
<path d="M751.78,511.17 L743.01,506.1 L750.55,501.75 L759.31,506.82Z" fill="#fff" stroke="#222" stroke-width="1.2" stroke-linejoin="round"/>
<ellipse cx="747.4" cy="517.4" rx="6.65" ry="11.53" transform="rotate(-30 747.4 517.4)" fill="#fff" stroke="#222" stroke-width="1.1"/>
<ellipse cx="747.4" cy="517.4" rx="3.58" ry="6.2" transform="rotate(-30 747.4 517.4)" fill="#3a3a3a" stroke="#222" stroke-width="1"/>
<ellipse cx="747.4" cy="517.4" rx="2.22" ry="3.84" transform="rotate(-30 747.4 517.4)" fill="#fff" stroke="#222" stroke-width="0.6"/>
<path d="M772.3,511.61 L777.43,507.49 A3.69 6.4 -30 0 0 771.03,496.41 L764.9,498.79Z" fill="#fff" stroke="#222" stroke-width="1.1"/>
<path d="M766.7,498.09 A4.1 7.11 -30 0 1 773.81,510.4" fill="none" stroke="#222" stroke-width="1.5"/>
<path d="M768.51,497.39 A3.93 6.81 -30 0 1 775.32,509.19" fill="none" stroke="#222" stroke-width="1.5"/>
<path d="M770.31,496.69 A3.76 6.52 -30 0 1 776.83,507.98" fill="none" stroke="#222" stroke-width="1.5"/>
<ellipse cx="768.6" cy="505.2" rx="4.27" ry="7.4" transform="rotate(-30 768.6 505.2)" fill="#fff" stroke="#222" stroke-width="1.35"/>
<ellipse cx="768.6" cy="505.2" rx="3.23" ry="5.6" transform="rotate(-30 768.6 505.2)" fill="none" stroke="#222" stroke-width="0.8"/>
<ellipse cx="768.6" cy="505.2" rx="2.19" ry="3.8" transform="rotate(-30 768.6 505.2)" fill="#fff" stroke="#222" stroke-width="1"/>
<path d="M783.45,485.85 L799,478.3 C803.5,475.8 810.5,479.6 812.8,490.1 L815.2,490.7 L815.8,497.9 L811.8,506.1 L798.4,508.1 L793.55,503.35Z" fill="#fff" stroke="#222" stroke-width="1.2" stroke-linejoin="round"/>
<path d="M798.4,500.3 L811.6,497.3 L811.6,506.3 L798.4,508.1Z" fill="#fff" stroke="#222" stroke-width="1.2"/>
<path d="M793.55,503.35 L798.4,500.3" fill="none" stroke="#222" stroke-width="1.1"/>
<path d="M811.6,497.3 L815.2,490.7" fill="none" stroke="#222" stroke-width="1.1"/>
<path d="M800,498.2 L812.8,490.3" fill="none" stroke="#222" stroke-width="1.1"/>
<path d="M798.4,500.3 L800,498.2" fill="none" stroke="#222" stroke-width="1"/>
<path d="M787.78,483.35 A5.83 10.1 -30 0 1 799.96,496.65" fill="none" stroke="#222" stroke-width="1.1"/>
<path d="M785.1,484.91 A5.83 10.1 -30 0 1 796.87,499.87" fill="none" stroke="#222" stroke-width="1.6"/>
<path d="M786.49,484.11 A5.83 10.1 -30 0 1 798.39,498.44" fill="none" stroke="#222" stroke-width="1.4"/>
<ellipse cx="788.5" cy="494.6" rx="5.83" ry="10.1" transform="rotate(-30 788.5 494.6)" fill="#fff" stroke="#222" stroke-width="1.2"/>
<ellipse cx="788.76" cy="494.45" rx="4.73" ry="8.2" transform="rotate(-30 788.76 494.45)" fill="#fff" stroke="#222" stroke-width="1.8"/>
<ellipse cx="789.54" cy="494" rx="3.23" ry="5.6" transform="rotate(-30 789.54 494)" fill="#fff" stroke="#222" stroke-width="1"/>
<path d="M792.68,498.56 A3.23 5.6 -30 0 1 787.16,489" fill="none" stroke="#222" stroke-width="0.9"/>
<path d="M395.19,715.76 A6.06 10.5 207.2 0 1 404.79,697.08 L399.9,694.57 L399.9,694.57 A6.06 10.5 207.2 0 0 390.3,713.25Z" fill="#262626" stroke="#222" stroke-width="1"/>
<path d="M393.59,714.21 A5.77 10 207.2 0 1 402.59,696.69" fill="none" stroke="#b0b0b0" stroke-width="0.6"/>
<path d="M392.15,713.47 A5.77 10 207.2 0 1 401.15,695.95" fill="none" stroke="#b0b0b0" stroke-width="0.6"/>
<path d="M390.71,712.73 A5.77 10 207.2 0 1 399.72,695.21" fill="none" stroke="#b0b0b0" stroke-width="0.6"/>
<ellipse cx="399.99" cy="706.42" rx="6.06" ry="10.5" transform="rotate(207.2 399.99 706.42)" fill="#fff" stroke="#222" stroke-width="1"/>
<path d="M417.69,689.93 A5.94 10.3 -30 0 1 427.99,707.77 L432.75,705.02 L432.75,705.02 A5.94 10.3 -30 0 0 422.45,687.18Z" fill="#262626" stroke="#222" stroke-width="1"/>
<path d="M419.84,689.43 A5.65 9.8 -30 0 1 429.49,706.15" fill="none" stroke="#b0b0b0" stroke-width="0.6"/>
<path d="M421.24,688.63 A5.65 9.8 -30 0 1 430.89,705.34" fill="none" stroke="#b0b0b0" stroke-width="0.6"/>
<path d="M422.64,687.82 A5.65 9.8 -30 0 1 432.3,704.53" fill="none" stroke="#b0b0b0" stroke-width="0.6"/>
<ellipse cx="422.84" cy="698.85" rx="5.94" ry="10.3" transform="rotate(-30 422.84 698.85)" fill="#fff" stroke="#222" stroke-width="1"/>
<path d="M412.85,714.55 L427.57,706.05 A4.96 8.6 -30 0 0 418.97,691.15 L404.25,699.65 A4.96 8.6 -30 0 0 412.85,714.55 Z" fill="#fff" stroke="#222" stroke-width="1.1"/>
<path d="M416.53,703.34 L404.07,696.94 A5.94 10.3 207.2 0 0 394.66,715.26 L407.11,721.66 A5.94 10.3 207.2 0 0 416.53,703.34 Z" fill="#fff" stroke="#222" stroke-width="1.15"/>
<path d="M412.5,691.7 L412.5,699.7 A6.2 3.6 0 0 0 424.9,699.7 L424.9,691.7Z" fill="#fff" stroke="#222" stroke-width="1.1"/>
<path d="M410.8,686.7 L410.8,693.2 A4.56 7.9 90 0 0 426.6,693.2 L426.6,686.7 A4.56 7.9 90 0 0 410.8,686.7 Z" fill="#262626" stroke="#222" stroke-width="1"/>
<ellipse cx="418.7" cy="686.7" rx="4.56" ry="7.9" transform="rotate(-90 418.7 686.7)" fill="#262626" stroke="#222" stroke-width="1"/>
<ellipse cx="418.7" cy="686.5" rx="3.35" ry="5.8" transform="rotate(-90 418.7 686.5)" fill="none" stroke="#888" stroke-width="0.7"/>
<path d="M415.2,686.2 L422.2,687" fill="none" stroke="#ddd" stroke-width="1.2"/>
<path d="M419.2,684.7 L418.2,688.5" fill="none" stroke="#ddd" stroke-width="1"/>
<path d="M403,722.75 L413.39,716.75 A6.23 10.8 -30 0 0 402.59,698.05 L392.2,704.05 A6.23 10.8 -30 0 0 403,722.75 Z" fill="#262626" stroke="#222" stroke-width="1"/>
<path d="M395.12,703.12 A5.89 10.2 -30 0 1 405.26,720.69" fill="none" stroke="#a8a8a8" stroke-width="0.65"/>
<path d="M396.63,702.24 A5.89 10.2 -30 0 1 406.78,719.81" fill="none" stroke="#a8a8a8" stroke-width="0.65"/>
<path d="M398.15,701.37 A5.89 10.2 -30 0 1 408.29,718.94" fill="none" stroke="#a8a8a8" stroke-width="0.65"/>
<path d="M399.66,700.49 A5.89 10.2 -30 0 1 409.81,718.06" fill="none" stroke="#a8a8a8" stroke-width="0.65"/>
<path d="M401.18,699.62 A5.89 10.2 -30 0 1 411.32,717.19" fill="none" stroke="#a8a8a8" stroke-width="0.65"/>
<path d="M402.7,698.74 A5.89 10.2 -30 0 1 412.84,716.31" fill="none" stroke="#a8a8a8" stroke-width="0.65"/>
<ellipse cx="397.6" cy="713.4" rx="6.23" ry="10.8" transform="rotate(-30 397.6 713.4)" fill="#fff" stroke="#222" stroke-width="1.3"/>
<ellipse cx="397.86" cy="713.25" rx="5.19" ry="9" transform="rotate(-30 397.86 713.25)" fill="#fff" stroke="#222" stroke-width="1"/>
<path d="M402.98,720.53 A5.19 9 -30 0 1 393.82,705.54" fill="none" stroke="#222" stroke-width="0.9"/>
<path d="M398.8,704.11 A4.96 8.6 -30 0 1 406.24,717.01" fill="none" stroke="#262626" stroke-width="2.2"/>
<path d="M438.92,705.88 A5.94 10.3 -30 0 1 449.22,723.72 L453.55,721.22 L453.55,721.22 A5.94 10.3 -30 0 0 443.25,703.38Z" fill="#262626" stroke="#222" stroke-width="1"/>
<path d="M440.99,705.44 A5.65 9.8 -30 0 1 450.64,722.15" fill="none" stroke="#b0b0b0" stroke-width="0.6"/>
<path d="M442.26,704.7 A5.65 9.8 -30 0 1 451.91,721.42" fill="none" stroke="#b0b0b0" stroke-width="0.6"/>
<path d="M443.53,703.97 A5.65 9.8 -30 0 1 453.18,720.68" fill="none" stroke="#b0b0b0" stroke-width="0.6"/>
<ellipse cx="444.07" cy="714.8" rx="5.94" ry="10.3" transform="rotate(-30 444.07 714.8)" fill="#fff" stroke="#222" stroke-width="1"/>
<path d="M433.67,730.92 L448.9,722.17 A5.08 8.8 -30 0 0 440.1,706.93 L424.87,715.68 A5.08 8.8 -30 0 0 433.67,730.92 Z" fill="#fff" stroke="#222" stroke-width="1.1"/>
<path d="M427.7,707.85 L417.92,702.82 A6.58 11.4 207.2 0 0 407.5,723.1 L417.28,728.13 A6.58 11.4 207.2 0 0 427.7,707.85 Z" fill="#fff" stroke="#222" stroke-width="1.15"/>
<ellipse cx="422.49" cy="717.99" rx="6.58" ry="11.4" transform="rotate(207.2 422.49 717.99)" fill="#fff" stroke="#222" stroke-width="1.15"/>
<path d="M414.87,724.57 L405.08,719.54" fill="none" stroke="#222" stroke-width="0.9"/>
<path d="M417.12,714.11 L407.33,709.08" fill="none" stroke="#222" stroke-width="0.9"/>
<path d="M424.08,707.7 L414.3,702.68" fill="none" stroke="#222" stroke-width="0.9"/>
<path d="M430.18,710.69 L427.06,709.09 A5.77 10 207.2 0 0 417.92,726.88 L421.03,728.48 A5.77 10 207.2 0 0 430.18,710.69 Z" fill="#fff" stroke="#222" stroke-width="1"/>
<ellipse cx="425.6" cy="719.59" rx="5.77" ry="10" transform="rotate(207.2 425.6 719.59)" fill="#fff" stroke="#222" stroke-width="1"/>
<path d="M420.32,713.96 A5.77 10 207.2 0 1 427.7,709.59" fill="none" stroke="#262626" stroke-width="2.2"/>
<path d="M436.48,714.83 L429.81,711.4 A5.31 9.2 207.2 0 0 421.4,727.77 L428.07,731.2 A5.31 9.2 207.2 0 0 436.48,714.83 Z" fill="#fff" stroke="#222" stroke-width="1.1"/>
<ellipse cx="432.28" cy="723.02" rx="5.31" ry="9.2" transform="rotate(207.2 432.28 723.02)" fill="#fff" stroke="#222" stroke-width="1.1"/>
<path d="M443.67,716.16 L437,712.74 A6.52 11.3 207.2 0 0 426.67,732.84 L433.34,736.27 A6.52 11.3 207.2 0 0 443.67,716.16 Z" fill="#fff" stroke="#222" stroke-width="1.15"/>
<ellipse cx="438.5" cy="726.22" rx="6.52" ry="11.3" transform="rotate(207.2 438.5 726.22)" fill="#fff" stroke="#222" stroke-width="1.15"/>
<path d="M447.17,719.2 L443.16,717.14 A5.89 10.2 207.2 0 0 433.84,735.29 L437.84,737.34 A5.89 10.2 207.2 0 0 447.17,719.2 Z" fill="#fff" stroke="#222" stroke-width="1"/>
<ellipse cx="442.5" cy="728.27" rx="5.89" ry="10.2" transform="rotate(207.2 442.5 728.27)" fill="#fff" stroke="#222" stroke-width="1"/>
<circle cx="433.66" cy="734.51" r="0.75" fill="#222"/>
<circle cx="432.87" cy="731.84" r="0.75" fill="#222"/>
<circle cx="433.09" cy="728.46" r="0.75" fill="#222"/>
<circle cx="434.29" cy="724.85" r="0.75" fill="#222"/>
<circle cx="436.3" cy="721.54" r="0.75" fill="#222"/>
<circle cx="438.82" cy="719.01" r="0.75" fill="#222"/>
<circle cx="441.49" cy="717.63" r="0.75" fill="#222"/>
<path d="M459.7,726.54 L446.8,719.91 A5.42 9.4 207.2 0 0 438.21,736.63 L451.1,743.26 A5.42 9.4 207.2 0 0 459.7,726.54 Z" fill="#262626" stroke="#222" stroke-width="1"/>
<path d="M449.29,741.6 A5.08 8.8 207.2 0 1 457.29,726.03" fill="none" stroke="#a8a8a8" stroke-width="0.65"/>
<path d="M447.79,740.83 A5.08 8.8 207.2 0 1 455.79,725.26" fill="none" stroke="#a8a8a8" stroke-width="0.65"/>
<path d="M446.29,740.06 A5.08 8.8 207.2 0 1 454.29,724.49" fill="none" stroke="#a8a8a8" stroke-width="0.65"/>
<path d="M444.78,739.28 A5.08 8.8 207.2 0 1 452.79,723.72" fill="none" stroke="#a8a8a8" stroke-width="0.65"/>
<path d="M443.28,738.51 A5.08 8.8 207.2 0 1 451.28,722.95" fill="none" stroke="#a8a8a8" stroke-width="0.65"/>
<path d="M441.78,737.74 A5.08 8.8 207.2 0 1 449.78,722.17" fill="none" stroke="#a8a8a8" stroke-width="0.65"/>
<path d="M440.28,736.97 A5.08 8.8 207.2 0 1 448.28,721.4" fill="none" stroke="#a8a8a8" stroke-width="0.65"/>
<path d="M438.78,736.2 A5.08 8.8 207.2 0 1 446.78,720.63" fill="none" stroke="#a8a8a8" stroke-width="0.65"/>
<ellipse cx="455.4" cy="734.9" rx="5.31" ry="9.2" transform="rotate(27.2 455.4 734.9)" fill="#fff" stroke="#222" stroke-width="1.2"/>
<path d="M378,727.6 L389,721.3" fill="none" stroke="#222" stroke-width="1.05" stroke-dasharray="3 2"/>
<path d="M388.05,732.45 L388.92,731.95 A5.37 9.3 -30 0 0 379.62,715.85 L378.75,716.35 A5.37 9.3 -30 0 0 388.05,732.45 Z" fill="#fff" stroke="#222" stroke-width="1"/>
<path d="M388.05,721.72 A5.37 9.3 -30 0 1 378.75,727.08 L378.75,727.08 A5.37 9.3 -30 0 1 388.05,721.72Z M386.6,722.55 A3.69 6.4 -30 0 1 380.2,726.25 L380.2,726.25 A3.69 6.4 -30 0 1 386.6,722.55Z" fill="#fff" fill-rule="evenodd" stroke="#222" stroke-width="1.1"/>
<path d="M387.29,729.54 A3.69 6.4 -30 0 1 380.89,718.46" fill="none" stroke="#222" stroke-width="0.8"/>
<path d="M455,708.4 L498,684.6" fill="none" stroke="#222" stroke-width="1.05" stroke-dasharray="3 2"/>
<path d="M467.2,713.71 L468.93,712.71 A5.54 9.6 -30 0 0 459.33,696.09 L457.6,697.09 A5.54 9.6 -30 0 0 467.2,713.71 Z" fill="#fff" stroke="#222" stroke-width="1"/>
<path d="M467.2,702.63 A5.54 9.6 -30 0 1 457.6,708.17 L457.6,708.17 A5.54 9.6 -30 0 1 467.2,702.63Z M465.8,703.44 A3.92 6.8 -30 0 1 459,707.36 L459,707.36 A3.92 6.8 -30 0 1 465.8,703.44Z" fill="#fff" fill-rule="evenodd" stroke="#222" stroke-width="1.1"/>
<path d="M466.49,710.89 A3.92 6.8 -30 0 1 459.69,699.11" fill="none" stroke="#222" stroke-width="0.8"/>
<path d="M484.3,707.05 L491.66,702.8 A6.69 11.6 -30 0 0 480.06,682.7 L472.7,686.95 A6.69 11.6 -30 0 0 484.3,707.05 Z" fill="#262626" stroke="#222" stroke-width="1"/>
<path d="M475.01,686.38 A6.35 11 -30 0 1 485.95,705.33" fill="none" stroke="#a8a8a8" stroke-width="0.65"/>
<path d="M476.09,685.76 A6.35 11 -30 0 1 487.03,704.7" fill="none" stroke="#a8a8a8" stroke-width="0.65"/>
<path d="M477.18,685.13 A6.35 11 -30 0 1 488.12,704.08" fill="none" stroke="#a8a8a8" stroke-width="0.65"/>
<path d="M478.26,684.51 A6.35 11 -30 0 1 489.2,703.45" fill="none" stroke="#a8a8a8" stroke-width="0.65"/>
<path d="M479.34,683.88 A6.35 11 -30 0 1 490.28,702.83" fill="none" stroke="#a8a8a8" stroke-width="0.65"/>
<path d="M480.42,683.26 A6.35 11 -30 0 1 491.36,702.2" fill="none" stroke="#a8a8a8" stroke-width="0.65"/>
<ellipse cx="478.5" cy="697" rx="6.69" ry="11.6" transform="rotate(-30 478.5 697)" fill="#262626" stroke="#222" stroke-width="1"/>
<ellipse cx="478.5" cy="697" rx="5.19" ry="9" transform="rotate(-30 478.5 697)" fill="#fff" stroke="#222" stroke-width="1"/>
<path d="M483.19,704.53 A5.19 9 -30 0 1 474.03,689.54" fill="none" stroke="#222" stroke-width="0.8"/>
<path d="M476.5,693.54 L480.5,700.46" fill="none" stroke="#222" stroke-width="0.8"/>
<path d="M481.96,695 L475.04,699" fill="none" stroke="#222" stroke-width="0.8"/>
<ellipse cx="365.3" cy="734.35" rx="6.58" ry="11.4" transform="rotate(-30 365.3 734.35)" fill="#fff" stroke="#222" stroke-width="1.1"/>
<path d="M368.86,742.01 L364.65,731.17 L369.5,728.37 L373.71,739.21Z" fill="#fff" stroke="#222" stroke-width="1.2" stroke-linejoin="round"/>
<path d="M364.65,747.99 L368.86,742.01 L373.71,739.21 L369.5,745.19Z" fill="#fff" stroke="#222" stroke-width="1.2" stroke-linejoin="round"/>
<path d="M364.65,731.17 L356.24,726.31 L361.09,723.51 L369.5,728.37Z" fill="#fff" stroke="#222" stroke-width="1.2" stroke-linejoin="round"/>
<ellipse cx="360.45" cy="737.15" rx="6.58" ry="11.4" transform="rotate(-30 360.45 737.15)" fill="#fff" stroke="#222" stroke-width="1.1"/>
<ellipse cx="360.97" cy="736.85" rx="5.54" ry="9.6" transform="rotate(-30 360.97 736.85)" fill="none" stroke="#222" stroke-width="0.8"/>
<path d="M330.4,753.3 C330.4,746.3 334,740.3 338.5,737.3 L356.8,730.83 L364.1,743.47 L354,748.8 L354,754.3 L342,760.3Z" fill="#fff" stroke="none" stroke-width="0"/>
<path d="M330.4,753.3 C330.4,746.3 334,740.3 338.5,737.3 L356.8,730.83 L364.1,743.47 L354,748.8 L354,754.3" fill="none" stroke="#222" stroke-width="1.15"/>
<path d="M336.5,740.3 C341,738.3 347,742.3 349.5,746.8" fill="none" stroke="#222" stroke-width="0.9"/>
<path d="M331.5,748.3 C336,742.3 346,743.3 352,750.3" fill="none" stroke="#222" stroke-width="0.8"/>
<path d="M350.77,759.36 L353.98,752.45 L353.98,760.45 L350.77,767.36Z" fill="#fff" stroke="#222" stroke-width="1.2" stroke-linejoin="round"/>
<path d="M338.79,761.21 L350.77,759.36 L350.77,767.36 L338.79,769.21Z" fill="#fff" stroke="#222" stroke-width="1.2" stroke-linejoin="round"/>
<path d="M330.02,756.15 L338.79,761.21 L338.79,769.21 L330.02,764.15Z" fill="#fff" stroke="#222" stroke-width="1.2" stroke-linejoin="round"/>
<path d="M353.95,752.5 A6.92 12 90 1 1 330.05,752.5" fill="none" stroke="#222" stroke-width="1.1"/>
<path d="M353.42,755.76 A6.69 11.6 90 0 1 330.58,755.76" fill="none" stroke="#222" stroke-width="0.8"/>
<path d="M342,770.5 L342,786" fill="none" stroke="#222" stroke-width="1.05" stroke-dasharray="3 2"/>
<path d="M368,733.3 L378,727.6" fill="none" stroke="#222" stroke-width="1.05" stroke-dasharray="3 2"/>
<path d="M699.8,408 A41.1 17.3 0 1 0 782,408 A41.1 17.3 0 1 0 699.8,408Z M704,408 A36.9 13.94 0 1 0 777.8,408 A36.9 13.94 0 1 0 704,408Z" fill="#fff" fill-rule="evenodd" stroke="#222" stroke-width="1.0"/>
<path d="M699.8,403.8 A41.1 17.3 0 1 0 782,403.8 A41.1 17.3 0 1 0 699.8,403.8Z M704,403.8 A36.9 13.94 0 1 0 777.8,403.8 A36.9 13.94 0 1 0 704,403.8Z" fill="#fff" fill-rule="evenodd" stroke="#222" stroke-width="1.0"/>
<path d="M688.4,406.2 L695.8,404.2 L709,415.6 L707.2,422.6 L700,419.6 L688.4,413.6Z" fill="#fff" stroke="#222" stroke-width="1.1"/>
<path d="M695.5,410 L694.8,416.8" fill="none" stroke="#222" stroke-width="1"/>
<path d="M699.8,412.6 L699.4,419" fill="none" stroke="#222" stroke-width="1"/>
<path d="M688.4,406.2 L701.5,417.5" fill="none" stroke="#222" stroke-width="0.9"/>
<path d="M699.8,399.6 A41.1 17.3 0 1 0 782,399.6 A41.1 17.3 0 1 0 699.8,399.6Z M704,399.6 A36.9 13.94 0 1 0 777.8,399.6 A36.9 13.94 0 1 0 704,399.6Z" fill="#fff" fill-rule="evenodd" stroke="#222" stroke-width="1.0"/>
<path d="M699.8,395.5 A41.1 17.3 0 1 0 782,395.5 A41.1 17.3 0 1 0 699.8,395.5Z M704,395.5 A36.9 13.94 0 1 0 777.8,395.5 A36.9 13.94 0 1 0 704,395.5Z" fill="#fff" fill-rule="evenodd" stroke="#222" stroke-width="1.0"/>
<path d="M727.14,405.85 L706.84,394.25 A2.16 2.7 209.7 0 0 704.16,398.95 L724.46,410.55 A2.16 2.7 209.7 0 0 727.14,405.85 Z" fill="#fff" stroke="#222" stroke-width="1"/>
<ellipse cx="725.8" cy="408.2" rx="2.16" ry="2.7" transform="rotate(209.7 725.8 408.2)" fill="#fff" stroke="#222" stroke-width="1"/>
<path d="M663.7,784.95 L684.92,772.7 A4.5 7.8 -30 0 0 677.12,759.2 L655.9,771.45 A4.5 7.8 -30 0 0 663.7,784.95 Z" fill="#fff" stroke="#222" stroke-width="1.2"/>
<path d="M669.89,762.85 q-0.2,3 2.2,2.2 q1.6,-0.6 1.2,-2.8" fill="#fff" stroke="#222" stroke-width="1"/>
<path d="M631.7,770.9 L631.7,832 A16.9 9.6 0 0 0 665.5,832 L665.5,770.9Z" fill="#fff" stroke="#222" stroke-width="1.2"/>
<ellipse cx="648.6" cy="770.9" rx="16.9" ry="9.6" fill="#fff" stroke="#222" stroke-width="1.6"/>
<path d="M653.2,778.6 A4.3 4.3 0 1 1 661.2,776.6" fill="none" stroke="#222" stroke-width="1.1"/>
<path d="M648.6,762 L648.6,779" fill="none" stroke="#222" stroke-width="1.1" stroke-dasharray="3 1.8"/>
<path d="M633,709 L633.6,713 C634.1,718 639.9,719 639.9,726 L639.9,756.5 A8.7 4.6 0 0 0 657.3,756.5 L657.3,726 C657.3,719 663.1,718 663.6,713 L664.2,709Z" fill="#fff" stroke="#222" stroke-width="1.15"/>
<path d="M635,716 A13.6 4.5 0 0 0 662.2,716" fill="none" stroke="#222" stroke-width="1"/>
<path d="M619.2,687.6 C619.2,679.6 628.6,672.7 639.6,673.2 C654.6,674.7 676.4,683.3 677.4,694.8 C678.2,702.8 664,709.6 650,708.6 C636,707.6 619.7,696.6 619.2,687.6Z" fill="#fff" stroke="#222" stroke-width="1.3"/>
<path d="M620.81,687.69 C620.81,680.37 629.69,674.06 640.09,674.51 C654.26,675.89 674.87,683.75 675.81,694.28 C676.57,701.6 663.15,707.82 649.92,706.9 C636.69,705.99 621.28,695.92 620.81,687.69Z" fill="none" stroke="#222" stroke-width="1"/>
<path d="M620.6,694 C623.6,704 636.6,712.5 651.6,712.5 C664.6,712.5 675.6,705 677.1,697" fill="none" stroke="#222" stroke-width="1"/>
<ellipse cx="649.3" cy="700.2" rx="13.2" ry="7.5" fill="none" stroke="#222" stroke-width="1.0"/>
<path d="M641.2,705.3 A9.4 4.2 0 0 1 659.4,704.6" fill="none" stroke="#222" stroke-width="1"/>
<path d="M684,762.8 L694,757" fill="none" stroke="#222" stroke-width="1.05" stroke-dasharray="2.5 1.5"/>
<path d="M709.37,755.63 L734.92,740.88 A3.75 6.5 -30 0 0 728.42,729.62 L702.87,744.37 A3.75 6.5 -30 0 0 709.37,755.63 Z" fill="#fff" stroke="#222" stroke-width="1.15"/>
<path d="M698.3,764.45 L711.72,756.7 A4.96 8.6 -30 0 0 703.12,741.8 L689.7,749.55 A4.96 8.6 -30 0 0 698.3,764.45 Z" fill="#fff" stroke="#222" stroke-width="1.15"/>
<ellipse cx="694" cy="757" rx="4.96" ry="8.6" transform="rotate(-30 694 757)" fill="#fff" stroke="#222" stroke-width="1.5"/>
<ellipse cx="694.52" cy="756.7" rx="3.98" ry="6.9" transform="rotate(-30 694.52 756.7)" fill="none" stroke="#222" stroke-width="0.8"/>
<path d="M691,758.8 L698,754.7" fill="none" stroke="#222" stroke-width="0.9" stroke-dasharray="3 1.5"/>
<path d="M737,731.8 L790,701.2" fill="none" stroke="#222" stroke-width="1.05" stroke-dasharray="3 1.6"/>
<path d="M757.19,731.21 L770.62,723.46 A5.54 9.6 -30 0 0 761.02,706.84 L747.59,714.59 A5.54 9.6 -30 0 0 757.19,731.21 Z" fill="#262626" stroke="#222" stroke-width="1"/>
<path d="M751.89,712.86 A5.19 9 -30 0 1 760.84,728.36" fill="none" stroke="#9a9a9a" stroke-width="0.55"/>
<path d="M753.69,711.81 A5.19 9 -30 0 1 762.64,727.32" fill="none" stroke="#9a9a9a" stroke-width="0.55"/>
<path d="M755.5,710.77 A5.19 9 -30 0 1 764.45,726.28" fill="none" stroke="#9a9a9a" stroke-width="0.55"/>
<path d="M757.3,709.73 A5.19 9 -30 0 1 766.25,725.23" fill="none" stroke="#9a9a9a" stroke-width="0.55"/>
<path d="M759.11,708.69 A5.19 9 -30 0 1 768.06,724.19" fill="none" stroke="#9a9a9a" stroke-width="0.55"/>
<path d="M760.91,707.65 A5.19 9 -30 0 1 769.86,723.15" fill="none" stroke="#9a9a9a" stroke-width="0.55"/>
<path d="M756.56,734.12 L760.89,731.62 A6.81 11.8 -30 0 0 749.09,711.18 L744.76,713.68 A6.81 11.8 -30 0 0 756.56,734.12 Z" fill="#fff" stroke="#222" stroke-width="1.1"/>
<ellipse cx="750.66" cy="723.9" rx="6.81" ry="11.8" transform="rotate(-30 750.66 723.9)" fill="#fff" stroke="#222" stroke-width="1.1"/>
<path d="M753.8,734.33 L756.83,732.58 A6.12 10.6 -30 0 0 746.23,714.22 L743.2,715.97 A6.12 10.6 -30 0 0 753.8,734.33 Z" fill="#fff" stroke="#222" stroke-width="1"/>
<ellipse cx="748.5" cy="725.15" rx="6.12" ry="10.6" transform="rotate(-30 748.5 725.15)" fill="#fff" stroke="#222" stroke-width="1"/>
<path d="M749.5,735.89 L754.26,733.14 A5.65 9.8 -30 0 0 744.46,716.16 L739.7,718.91 A5.65 9.8 -30 0 0 749.5,735.89 Z" fill="#fff" stroke="#222" stroke-width="1.1"/>
<ellipse cx="744.6" cy="727.4" rx="5.65" ry="9.8" transform="rotate(-30 744.6 727.4)" fill="#fff" stroke="#222" stroke-width="1.1"/>
<ellipse cx="744.77" cy="727.3" rx="3.58" ry="6.2" transform="rotate(-30 744.77 727.3)" fill="#fff" stroke="#222" stroke-width="1"/>
<path d="M741,729.5 L750,724.3" fill="none" stroke="#222" stroke-width="0.9" stroke-dasharray="3 1.5"/>
<path d="M806,686.5 L809.5,684.8 L812.6,686.6 L813.4,692.5 L810,695 L806,692Z" fill="#333" stroke="#222" stroke-width="0.9"/>
<path d="M774.2,692.89 L786,686.1 C790,684 797,684.4 801,686.5 C806,689 811,697 812,703.5 L815,707 L815,738.4 A14.75 8 0 0 1 785.5,738.4 L785.5,720 Z" fill="#fff" stroke="#222" stroke-width="1.2" stroke-linejoin="round"/>
<path d="M794,685.4 C801,690 806.5,700 803,711 C801.5,715 798.5,718 795,719.5" fill="none" stroke="#222" stroke-width="1.1"/>
<path d="M795,719.5 C802,719.5 810,712.5 812.6,704" fill="none" stroke="#222" stroke-width="1"/>
<ellipse cx="782" cy="706.4" rx="9" ry="15.6" transform="rotate(-30 782 706.4)" fill="#fff" stroke="#222" stroke-width="1.3"/>
<ellipse cx="782.35" cy="706.2" rx="6.12" ry="10.6" transform="rotate(-30 782.35 706.2)" fill="#3a3a3a" stroke="#222" stroke-width="1"/>
<path d="M787.76,714.58 A5.77 10 -30 0 1 777.8,697.32" fill="none" stroke="#c4c4c4" stroke-width="0.9"/>
<path d="M788.52,713.22 A5.31 9.2 -30 0 1 779.36,697.34" fill="none" stroke="#c4c4c4" stroke-width="0.9"/>
<path d="M789.28,711.86 A4.85 8.4 -30 0 1 780.91,697.36" fill="none" stroke="#c4c4c4" stroke-width="0.9"/>
<path d="M790.04,710.5 A4.39 7.6 -30 0 1 782.47,697.38" fill="none" stroke="#c4c4c4" stroke-width="0.9"/>
<path d="M790.81,709.14 A3.92 6.8 -30 0 1 784.03,697.4" fill="none" stroke="#c4c4c4" stroke-width="0.9"/>
<path d="M778.72,696.92 A5.77 10 -30 0 1 788.57,713.98" fill="none" stroke="#aaa" stroke-width="0.9"/>
</svg></body></html>
